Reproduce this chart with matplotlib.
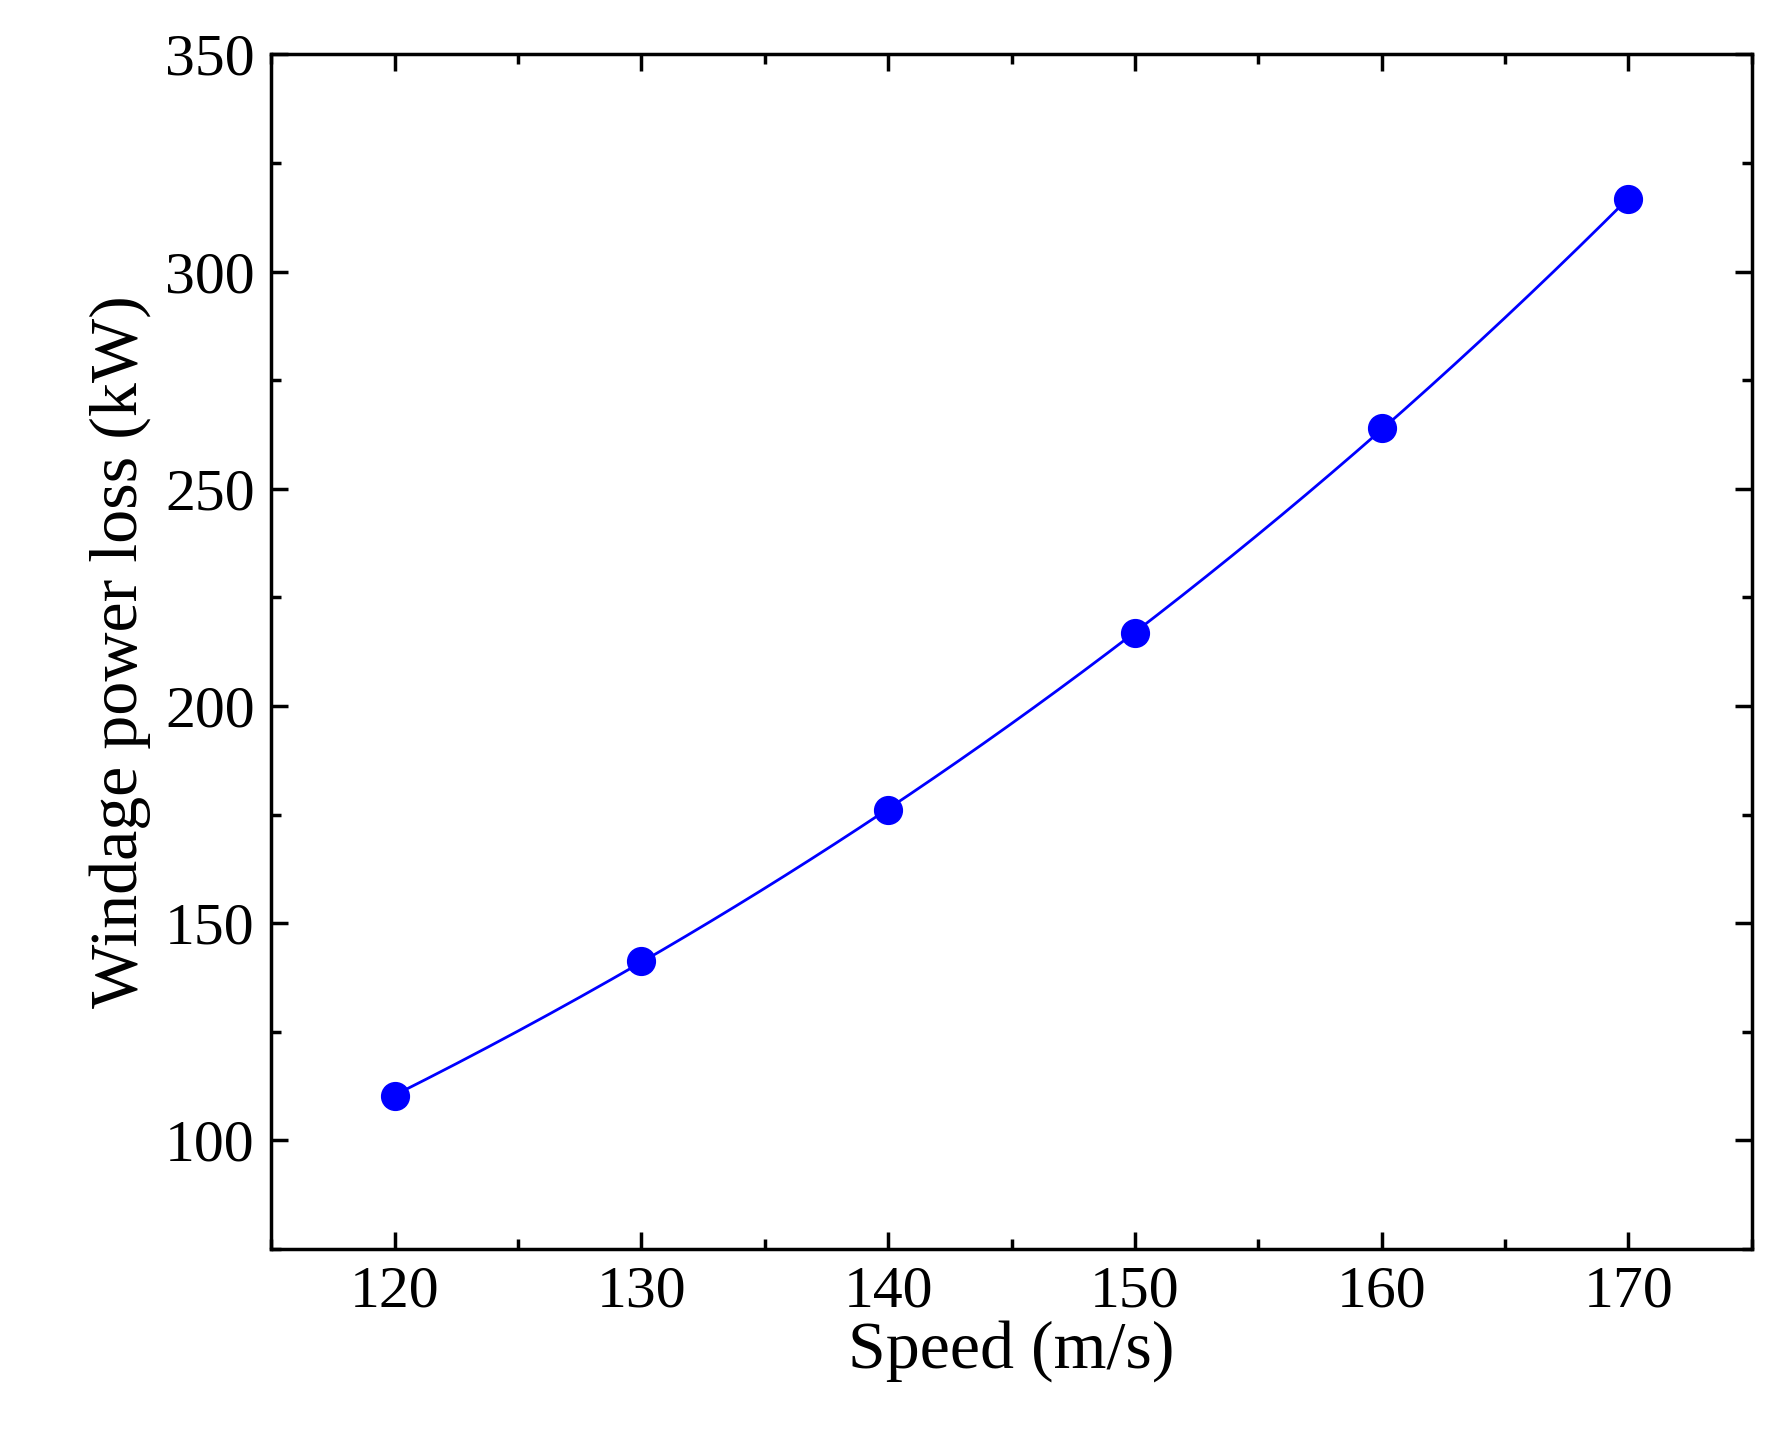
import numpy as np
import matplotlib
matplotlib.use("Agg")
import matplotlib.pyplot as plt
from matplotlib.ticker import MultipleLocator

speed = [120, 130, 140, 150, 160, 170]
loss = [110.3, 141.3, 176.1, 216.8, 263.9, 316.8]

plt.rcParams['font.family'] = ['Liberation Serif', 'DejaVu Serif']
fig = plt.figure(figsize=(17.84, 14.29), dpi=100)
ax = fig.add_axes([0.152, 0.126, 0.83, 0.836])

coef = np.polyfit(speed, loss, 3)
xs = np.linspace(min(speed), max(speed), 200)
ax.plot(xs, np.polyval(coef, xs), color='#0000FF', lw=2)
ax.plot(speed, loss, 'o', color='#0000FF', ms=20)

ax.set_xlim(115, 175)
ax.set_ylim(75, 350)
ax.xaxis.set_major_locator(MultipleLocator(10))
ax.xaxis.set_minor_locator(MultipleLocator(5))
ax.yaxis.set_major_locator(MultipleLocator(50))
ax.yaxis.set_minor_locator(MultipleLocator(25))
ax.tick_params(which='both', direction='in', top=True, right=True, width=2.5)
ax.tick_params(which='major', length=12, labelsize=43, pad=12)
ax.tick_params(which='minor', length=7)
for s in ax.spines.values():
    s.set_linewidth(2.5)
ax.set_xlabel('Speed (m/s)', fontsize=49, labelpad=0)
ax.set_ylabel('Windage power loss (kW)', fontsize=49, labelpad=10)
fig.savefig('out.png')
